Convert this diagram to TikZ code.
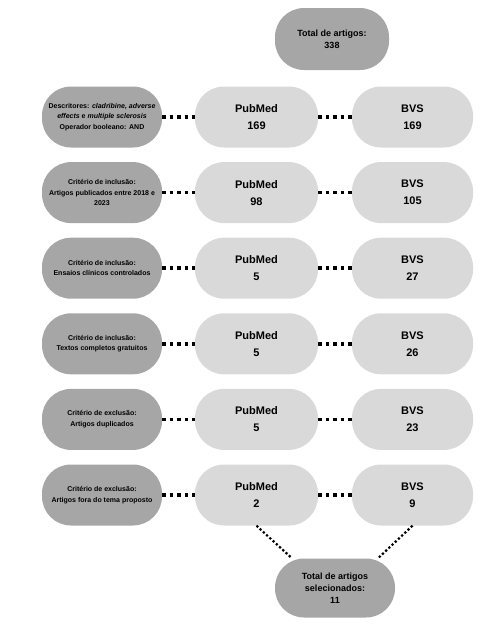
\documentclass[tikz,border=0pt]{standalone}
\usepackage{fontspec}
\setmainfont{Liberation Sans}
\definecolor{darkbox}{HTML}{A6A6A6}
\definecolor{lightbox}{HTML}{D9D9D9}
\begin{document}
\begin{tikzpicture}[x=1pt,y=-1pt,
  pill/.style={rounded corners=29pt, inner sep=0pt, align=center, font=\bfseries},
  critbox/.style={pill, fill=darkbox, minimum width=120pt, minimum height=61pt, font=\fontsize{7}{10.5}\selectfont\bfseries},
  dbbox/.style={pill, fill=lightbox, minimum height=61pt, font=\fontsize{11}{17}\selectfont\bfseries},
  totbox/.style={pill, fill=darkbox, font=\fontsize{9}{12}\selectfont\bfseries},
  hdots/.style={line width=3.5pt, dash pattern=on 3.5pt off 4pt},
  ddots/.style={line width=2.2pt, dash pattern=on 2.2pt off 2.2pt}
]
\useasboundingbox (0,0) rectangle (499,625);
\node[totbox, minimum width=114pt, minimum height=62pt] (top) at (332,39) {Total de artigos:\\338};

\node[critbox] (l1) at (102,117) {Descritores: \textit{cladribine, adverse}\\\textit{effects} e \textit{multiple sclerosis}\\Operador booleano: AND};
\node[critbox] (l2) at (102,192.6) {Critério de inclusão:\\Artigos publicados entre 2018 e\\2023};
\node[critbox] (l3) at (102,268.2) {Critério de inclusão:\\Ensaios clínicos controlados};
\node[critbox] (l4) at (102,343.8) {Critério de inclusão:\\Textos completos gratuitos};
\node[critbox] (l5) at (102,419.4) {Critério de exclusão:\\Artigos duplicados};
\node[critbox] (l6) at (102,495) {Critério de exclusão:\\Artigos fora do tema proposto};

\node[dbbox, minimum width=123pt] (p1) at (256.5,117) {PubMed\\169};
\node[dbbox, minimum width=123pt] (p2) at (256.5,192.6) {PubMed\\98};
\node[dbbox, minimum width=123pt] (p3) at (256.5,268.2) {PubMed\\5};
\node[dbbox, minimum width=123pt] (p4) at (256.5,343.8) {PubMed\\5};
\node[dbbox, minimum width=123pt] (p5) at (256.5,419.4) {PubMed\\5};
\node[dbbox, minimum width=123pt] (p6) at (256.5,495) {PubMed\\2};

\node[dbbox, minimum width=121pt] (b1) at (412.5,117) {BVS\\169};
\node[dbbox, minimum width=121pt] (b2) at (412.5,192.6) {BVS\\105};
\node[dbbox, minimum width=121pt] (b3) at (412.5,268.2) {BVS\\27};
\node[dbbox, minimum width=121pt] (b4) at (412.5,343.8) {BVS\\26};
\node[dbbox, minimum width=121pt] (b5) at (412.5,419.4) {BVS\\23};
\node[dbbox, minimum width=121pt] (b6) at (412.5,495) {BVS\\9};

\node[totbox, minimum width=120pt, minimum height=59pt] (fin) at (335,588) {Total de artigos\\selecionados:\\11};

\foreach \i in {1,...,6}{
  \draw[hdots] (l\i.east) -- (p\i.west);
  \draw[hdots] (p\i.east) -- (b\i.west);
}
\draw[ddots] (p6.south) -- ([xshift=-43pt]fin.north);
\draw[ddots] (b6.south) -- ([xshift=43pt]fin.north);
\end{tikzpicture}
\end{document}
